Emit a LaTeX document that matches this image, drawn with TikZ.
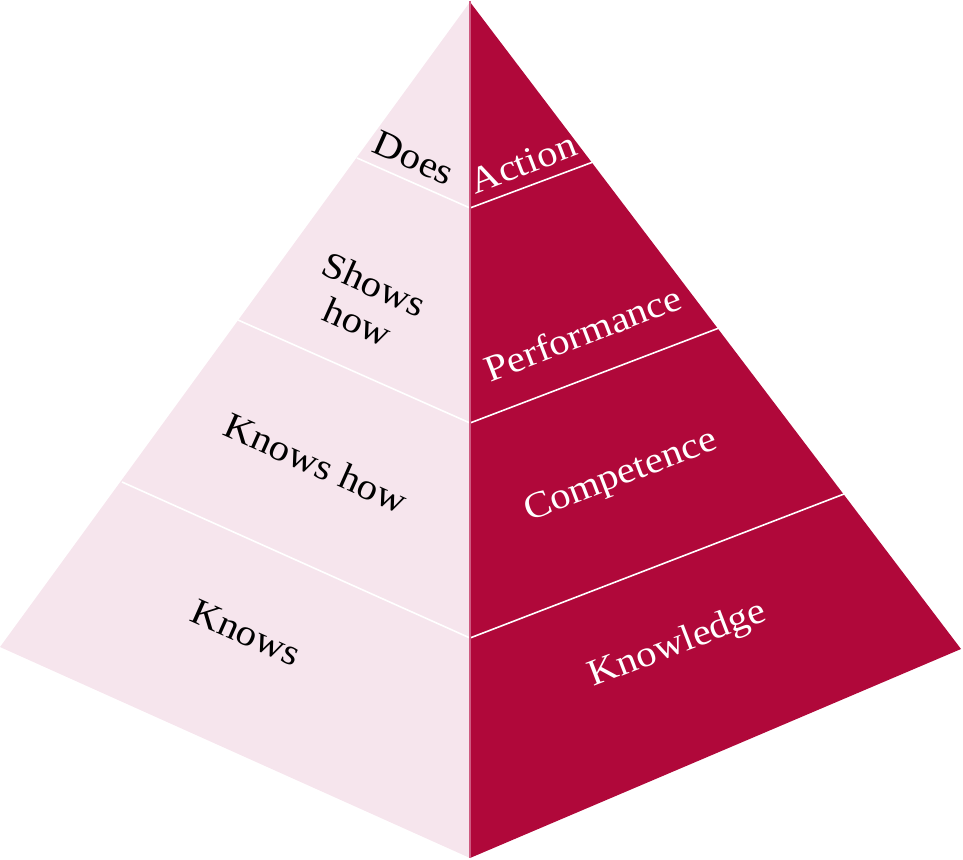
\documentclass[tikz,border=0pt]{standalone}
\usepackage{fontspec}
\setmainfont[FakeStretch=1.1]{Liberation Serif}
\definecolor{lightface}{RGB}{246,229,237}
\definecolor{darkface}{RGB}{176,8,58}
\definecolor{ridge}{RGB}{206,90,128}
\tikzset{
  lefttext/.style={text=black, rotate=-24, font=\fontsize{37}{41}\selectfont, align=center, inner sep=0pt},
  righttext/.style={text=white, rotate=21, font=\fontsize{37}{41}\selectfont, align=center, inner sep=0pt},
  divider/.style={draw=white, line width=1.6pt}
}
\begin{document}
\begin{tikzpicture}[x=1pt,y=-1pt]
\useasboundingbox (0,0) rectangle (963,859);
% faces
\fill[lightface] (470,2) -- (0,647) -- (470,858) -- cycle;
\fill[darkface] (470,2) -- (961,649) -- (470,858) -- cycle;
% dividers
\coordinate (c1) at (470,208);
\coordinate (c2) at (470,423);
\coordinate (c3) at (470,638);
\coordinate (l1) at (357,158);
\coordinate (l2) at (238,320);
\coordinate (l3) at (122,482);
\coordinate (r1) at (593,162);
\coordinate (r2) at (719,328);
\coordinate (r3) at (844,494);
\draw[divider] (l1) -- (c1) -- (r1);
\draw[divider] (l2) -- (c2) -- (r2);
\draw[divider] (l3) -- (c3) -- (r3);
% ridge
\coordinate (top) at (470,1);
\coordinate (bot) at (470,858);
\draw[ridge, line width=2.5pt] (top) -- (bot);
% labels
\node[lefttext] (does) at (414,158) {Does};
\node[lefttext] (shows) at (366,303) {Shows\\how};
\node[lefttext] (knowshow) at (316,463) {Knows how};
\node[lefttext] (knows) at (246,633) {Knows};
\node[righttext] (action) at (523,163) {Action};
\node[righttext] (perf) at (583,333) {Performance};
\node[righttext] (comp) at (621,477) {Competence};
\node[righttext] (knowl) at (678,645) {Knowledge};
\end{tikzpicture}
\end{document}
